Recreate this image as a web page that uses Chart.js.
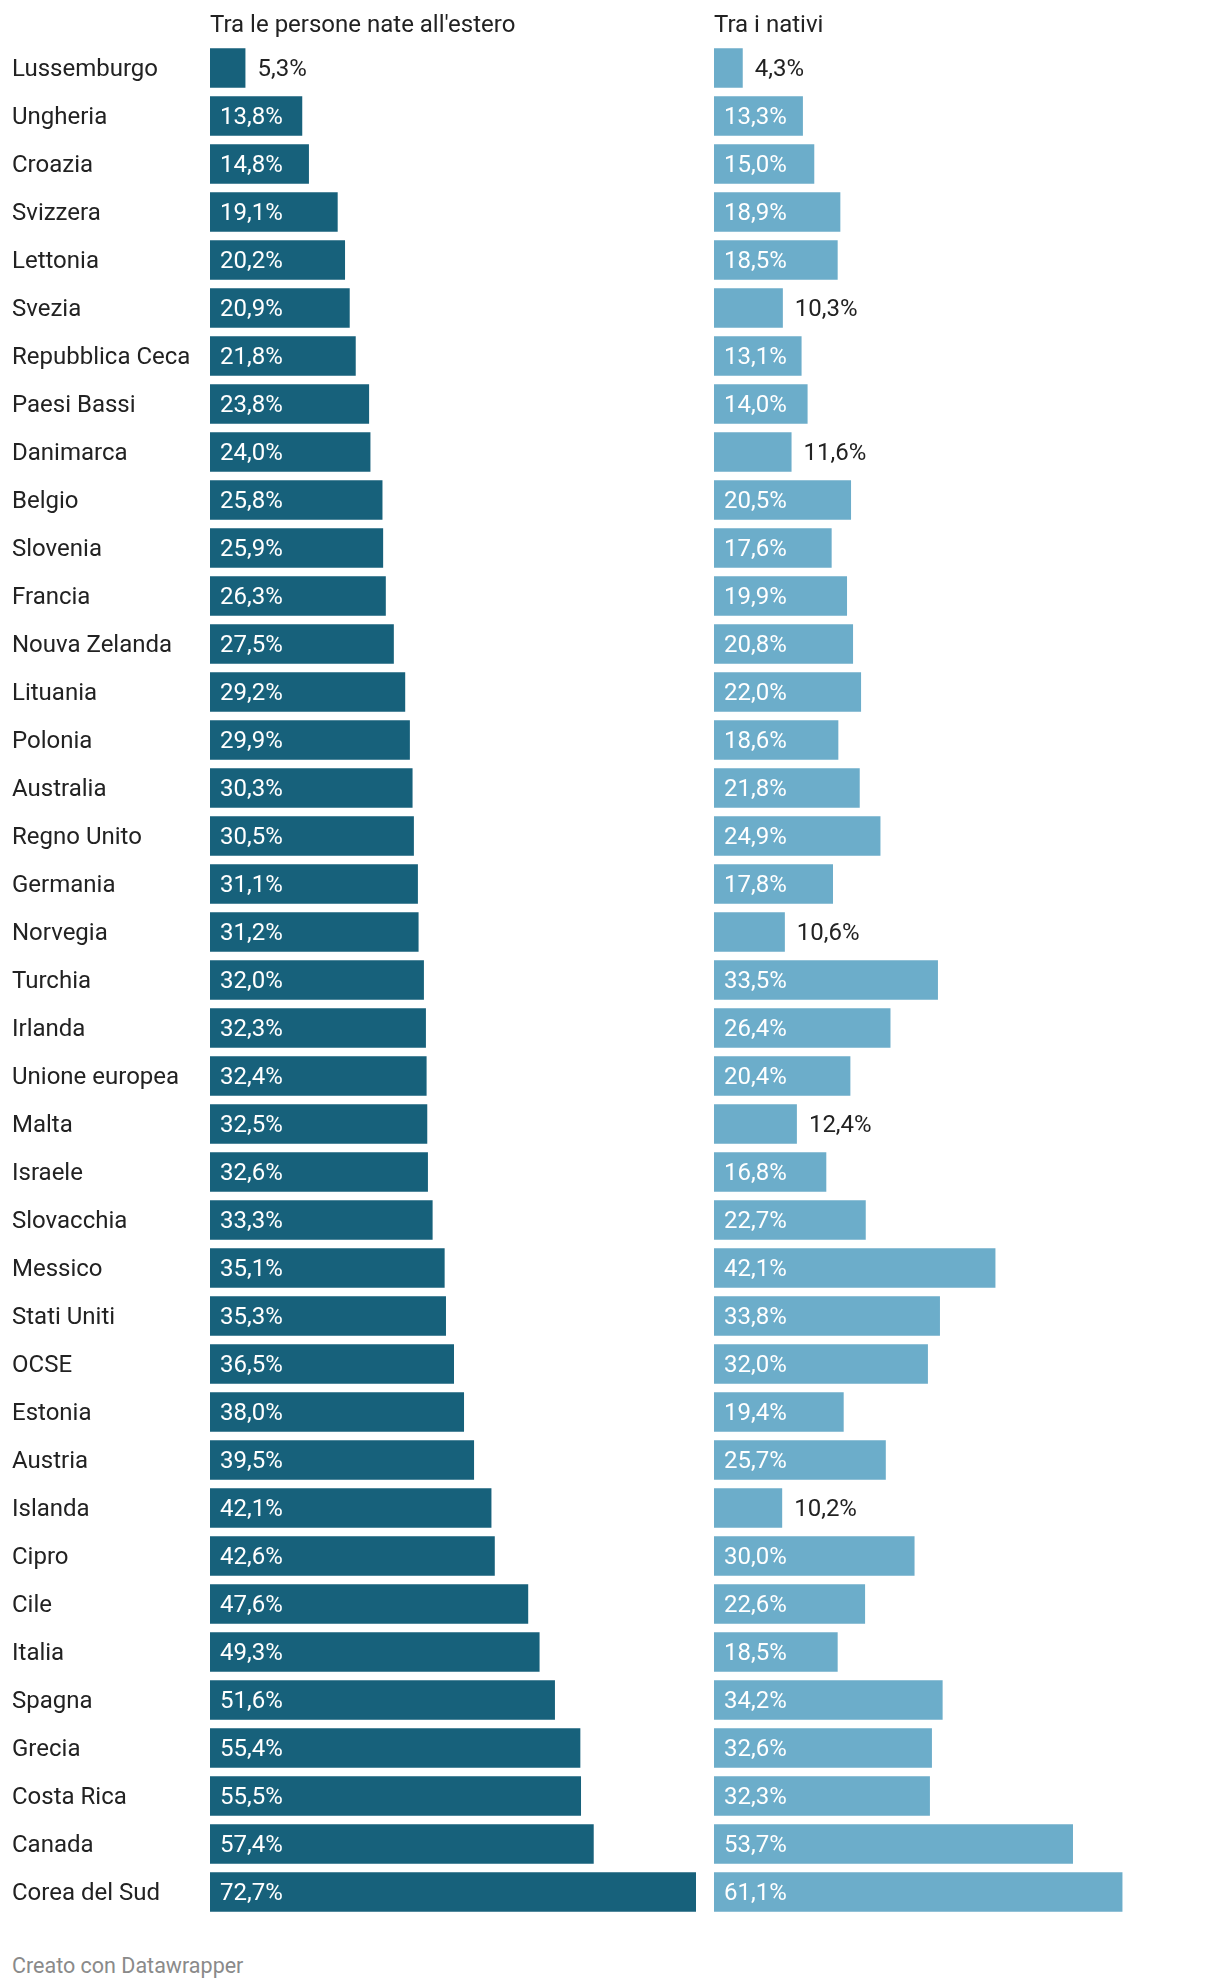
<!DOCTYPE html>
<html>
<head>
<meta charset="utf-8">
<script src="https://cdn.jsdelivr.net/npm/chart.js@4.4.1/dist/chart.umd.min.js"></script>
<style>
    body { margin: 0; background: #fff; font-family: Roboto, sans-serif; }
    #wrap { position: relative; width: 1220px; height: 1988px; }
    #leftBox { position: absolute; left: 0; top: 0; width: 696px; height: 1932px; }
    #rightBox { position: absolute; left: 714px; top: 0; width: 506px; height: 1932px; }
    #footer { position: absolute; left: 12px; top: 1953px; font-size: 21.5px; color: #8a8a8a; }
</style>
</head>
<body>
<div id="wrap">
    <div id="leftBox"><canvas id="leftChart"></canvas></div>
    <div id="rightBox"><canvas id="rightChart"></canvas></div>
    <div id="footer">Creato con Datawrapper</div>
</div>
<script>
const countries = [
    'Lussemburgo', 'Ungheria', 'Croazia', 'Svizzera', 'Lettonia', 'Svezia',
    'Repubblica Ceca', 'Paesi Bassi', 'Danimarca', 'Belgio', 'Slovenia', 'Francia',
    'Nouva Zelanda', 'Lituania', 'Polonia', 'Australia', 'Regno Unito', 'Germania',
    'Norvegia', 'Turchia', 'Irlanda', 'Unione europea', 'Malta', 'Israele',
    'Slovacchia', 'Messico', 'Stati Uniti', 'OCSE', 'Estonia', 'Austria',
    'Islanda', 'Cipro', 'Cile', 'Italia', 'Spagna', 'Grecia', 'Costa Rica',
    'Canada', 'Corea del Sud'
];
const foreignBorn = [
    5.3, 13.8, 14.8, 19.1, 20.2, 20.9, 21.8, 23.8, 24.0, 25.8, 25.9, 26.3,
    27.5, 29.2, 29.9, 30.3, 30.5, 31.1, 31.2, 32.0, 32.3, 32.4, 32.5, 32.6,
    33.3, 35.1, 35.3, 36.5, 38.0, 39.5, 42.1, 42.6, 47.6, 49.3, 51.6, 55.4,
    55.5, 57.4, 72.7
];
const natives = [
    4.3, 13.3, 15.0, 18.9, 18.5, 10.3, 13.1, 14.0, 11.6, 20.5, 17.6, 19.9,
    20.8, 22.0, 18.6, 21.8, 24.9, 17.8, 10.6, 33.5, 26.4, 20.4, 12.4, 16.8,
    22.7, 42.1, 33.8, 32.0, 19.4, 25.7, 10.2, 30.0, 22.6, 18.5, 34.2, 32.6,
    32.3, 53.7, 61.1
];
const seriesNames = ["Tra le persone nate all'estero", 'Tra i nativi'];

const FONT = 'Roboto';
const FONT_SIZE = 24;
const TEXT_COLOR = '#222222';
const X_MAX = Math.max(...foreignBorn, ...natives);

function fmt(v) {
    return v.toFixed(1).replace('.', ',') + '%';
}

// header above each panel, aligned with the bars
const headerPlugin = {
    id: 'header',
    afterDraw(chart) {
        const ctx = chart.ctx;
        ctx.save();
        ctx.font = FONT_SIZE + 'px ' + FONT;
        ctx.fillStyle = TEXT_COLOR;
        ctx.textAlign = 'left';
        ctx.textBaseline = 'alphabetic';
        ctx.fillText(chart.data.datasets[0].label, chart.chartArea.left, 32);
        ctx.restore();
    }
};

// value labels: white inside the bar, dark after it when the bar is short
const valuePlugin = {
    id: 'values',
    afterDatasetsDraw(chart) {
        const ctx = chart.ctx;
        const meta = chart.getDatasetMeta(0);
        const values = chart.data.datasets[0].data;
        ctx.save();
        ctx.font = FONT_SIZE + 'px ' + FONT;
        ctx.textBaseline = 'middle';
        ctx.textAlign = 'left';
        meta.data.forEach((bar, i) => {
            const width = bar.x - bar.base;
            if (width > 85) {
                ctx.fillStyle = '#ffffff';
                ctx.fillText(fmt(values[i]), bar.base + 10, bar.y + 2);
            } else {
                ctx.fillStyle = TEXT_COLOR;
                ctx.fillText(fmt(values[i]), bar.x + 12, bar.y + 2);
            }
        });
        ctx.restore();
    }
};

function makeChart(canvasId, name, values, color, showNames, padding) {
    const ctx = document.getElementById(canvasId).getContext('2d');
    return new Chart(ctx, {
        type: 'bar',
        data: {
            labels: countries,
            datasets: [{
                label: name,
                data: values,
                backgroundColor: color,
                borderWidth: 0,
                barPercentage: 0.823,
                categoryPercentage: 1.0
            }]
        },
        options: {
            indexAxis: 'y',
            responsive: true,
            maintainAspectRatio: false,
            animation: false,
            layout: { padding: padding },
            plugins: {
                legend: { display: false },
                tooltip: { enabled: false }
            },
            scales: {
                x: {
                    display: false,
                    min: 0,
                    max: X_MAX
                },
                y: {
                    display: showNames,
                    grid: { display: false, drawTicks: false },
                    border: { display: false },
                    ticks: {
                        crossAlign: 'far',
                        padding: 0,
                        labelOffset: 2,
                        color: TEXT_COLOR,
                        font: { family: FONT, size: FONT_SIZE }
                    },
                    afterFit: (scale) => { scale.width = showNames ? 198 : 0; }
                }
            }
        },
        plugins: [headerPlugin, valuePlugin]
    });
}

makeChart('leftChart', seriesNames[0], foreignBorn, '#17617b', true,
    { left: 12, top: 44, right: 0, bottom: 16 });
makeChart('rightChart', seriesNames[1], natives, '#6cadca', false,
    { left: 0, top: 44, right: 20, bottom: 16 });
</script>
</body>
</html>
